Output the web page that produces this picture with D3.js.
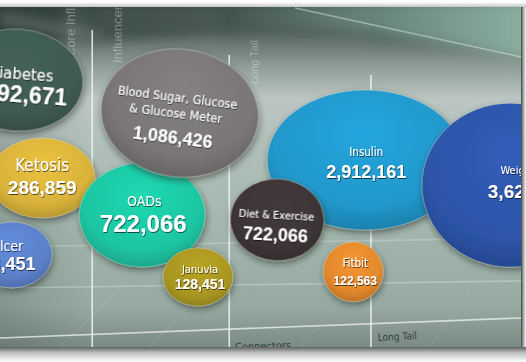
<!DOCTYPE html>
<html>
<head>
<meta charset="utf-8">
<title>Bubble map</title>
<script src="https://d3js.org/d3.v7.min.js"></script>
<style>
body { margin: 0; background: #fff; }
svg { display: block; }
.lbl { font-family: "Liberation Sans Narrow", "DejaVu Sans Condensed", sans-serif; fill: #fff; }
.num { font-family: "Liberation Sans", Arial, sans-serif; font-weight: bold; fill: #fff; }
.col { font-family: "Liberation Sans", Arial, sans-serif; fill: #fff; fill-opacity: .32; }
.foot { font-family: "Liberation Sans Narrow", "DejaVu Sans Condensed", sans-serif; fill: #333b38; }
</style>
</head>
<body>
<svg width="526" height="362"></svg>
<script>
// data (draw order = stacking order)
var categories = ["Insulin", "Weight Loss", "Diabetes", "Ulcer", "Ketosis", "OADs",
                  "Blood Sugar, Glucose\n& Glucose Meter", "Januvia", "Diet & Exercise", "Fitbit"];
var values = [2912161, 3623514, 1592671, 43451, 286859, 722066, 1086426, 128451, 722066, 122563];
// bubble centre, in % of the panel
var xPos = [70.1, 97.9, 3.3, 2.3, 8.1, 27.3, 34.5, 38.0, 53.2, 67.8];
var yPos = [45.0, 52.4, 21.5, 72.9, 50.3, 61.2, 31.2, 79.4, 62.6, 77.9];
// bubble spread, in % of the panel
var spanX = [37.6, 33.8, 25.3, 15.4, 20.3, 24.2, 30.3, 13.4, 18.0, 11.5];
var spanY = [41.2, 48.2, 30.0, 19.4, 23.5, 30.6, 37.6, 17.1, 24.1, 17.6];

var columns = ["Core Influencers", "Influencers", "Connectors", "Long Tail"];
var colBreaks = [17.7, 44.0, 71.2];

// look of each bubble
var styles = [
  {c: "#2198cb", tilt: 0, ls: 11.5, ns: 18, ly: -8,  ny: 12, dx: 1,  ldx: 1},
  {c: "#2d55a9", tilt: 0, ls: 11,   ns: 19, ly: -15, ny: 6,  dx: 20, ldx: 20},
  {c: "#3f5a50", tilt: 4, ls: 16.5, ns: 23, ly: -7,  ny: 14, dx: 0,  ldx: 3},
  {c: "#5a80c8", tilt: 0, ls: 14,   ns: 18, ly: -9,  ny: 9,  dx: -4, ldx: -5},
  {c: "#d8b23a", tilt: 0, ls: 17,   ns: 19, ly: -13, ny: 9,  dx: 0,  ldx: 0},
  {c: "#1dc6a3", tilt: 0, ls: 14,   ns: 24, ly: -14, ny: 8,  dx: 1,  ldx: 2},
  {c: "#7a7677", tilt: 7, ls: 12.5, ns: 18, ly: -16, ny: 25, dx: -4, ldx: -4},
  {c: "#a99621", tilt: 0, ls: 11,   ns: 14, ly: -7,  ny: 7,  dx: 2,  ldx: 2},
  {c: "#3d3536", tilt: 3, ls: 11,   ns: 18, ly: -5,  ny: 15, dx: -1, ldx: -1},
  {c: "#e2882d", tilt: 0, ls: 11.5, ns: 12, ly: -9,  ny: 9,  dx: 2,  ldx: 2}
];

var svg = d3.select("svg"),
    width = +svg.attr("width"),
    height = +svg.attr("height");

var px0 = 0, px1 = 521, py0 = 7, py1 = 347;

var x = d3.scaleLinear().domain([0, 100]).range([px0, px1]);
var y = d3.scaleLinear().domain([0, 100]).range([py0, py1]);
var sx = d3.scaleLinear().domain([0, 100]).range([0, px1 - px0]);
var sy = d3.scaleLinear().domain([0, 100]).range([0, py1 - py0]);
var fmt = d3.format(",");

var defs = svg.append("defs");

function linGrad(id, x1, y1, x2, y2, stops) {
  var g = defs.append("linearGradient").attr("id", id)
      .attr("x1", x1).attr("y1", y1).attr("x2", x2).attr("y2", y2);
  stops.forEach(function(s) {
    g.append("stop").attr("offset", s[0]).attr("stop-color", s[1])
      .attr("stop-opacity", s[2] == null ? 1 : s[2]);
  });
}

linGrad("bg", 0, 0, 0, 1, [[0, "#33423d"], [0.07, "#4a5a54"], [0.17, "#8d9b96"], [0.27, "#bcc6c2"],
  [0.42, "#b0bfb9"], [0.65, "#a3b6ae"], [0.88, "#97aaa2"], [1, "#7a8a84"]]);
linGrad("topband", 0, 0, 1, 0, [[0, "#2f3d38"], [0.45, "#3f5049"], [0.75, "#6d8c80"], [1, "#8fb2a4"]]);
linGrad("leftvig", 0, 0, 1, 0, [[0, "#26332f", 0.18], [1, "#26332f", 0]]);
linGrad("topshade", 0, 0, 0, 1, [[0, "#ffffff"], [1, "#c4c4c4"]]);
linGrad("botshade", 0, 0, 0, 1, [[0, "#5d605f"], [0.35, "#b9bbba"], [1, "#ffffff"]]);
linGrad("rshade", 0, 0, 1, 0, [[0, "#3c3f3e"], [0.4, "#9a9c9b"], [1, "#f4f4f4"]]);

var blur = defs.append("filter").attr("id", "soft").attr("x", "-20%").attr("y", "-50%")
    .attr("width", "140%").attr("height", "200%");
blur.append("feGaussianBlur").attr("stdDeviation", 6);

var shadow = defs.append("filter").attr("id", "bshadow").attr("x", "-30%").attr("y", "-30%")
    .attr("width", "160%").attr("height", "170%");
shadow.append("feDropShadow").attr("dx", 1).attr("dy", 3).attr("stdDeviation", 3)
    .attr("flood-color", "#1d2522").attr("flood-opacity", 0.55);

var tshadow = defs.append("filter").attr("id", "tshadow").attr("x", "-10%").attr("y", "-30%")
    .attr("width", "120%").attr("height", "160%");
tshadow.append("feDropShadow").attr("dx", 0.6).attr("dy", 1).attr("stdDeviation", 0.7)
    .attr("flood-color", "#000").attr("flood-opacity", 0.65);

defs.append("clipPath").attr("id", "panel")
  .append("rect").attr("x", px0).attr("y", py0).attr("width", px1 - px0).attr("height", py1 - py0);

// frame shadows
svg.append("rect").attr("x", 0).attr("y", 2).attr("width", width).attr("height", py0 - 2)
    .attr("fill", "url(#topshade)");
svg.append("rect").attr("x", 0).attr("y", py1).attr("width", width).attr("height", height - py1)
    .attr("fill", "url(#botshade)");
svg.append("rect").attr("x", px1).attr("y", py0).attr("width", width - px1).attr("height", py1 - py0)
    .attr("fill", "url(#rshade)");

var panel = svg.append("g").attr("clip-path", "url(#panel)");

panel.append("rect").attr("x", px0).attr("y", py0).attr("width", px1 - px0).attr("height", py1 - py0)
    .attr("fill", "url(#bg)");

// dark sweep across the top
panel.append("path")
    .attr("d", "M-20,0 L540,0 L540,62 C430,40 330,24 250,30 C180,34 90,48 -20,36 Z")
    .attr("fill", "url(#topband)").attr("filter", "url(#soft)");
panel.append("path")
    .attr("d", "M0,12 C40,18 70,26 100,32 L100,40 C70,36 40,30 0,26 Z")
    .attr("fill", "#8e9a96").attr("opacity", 0.45).attr("filter", "url(#soft)");
panel.append("line").attr("x1", 295).attr("y1", 8).attr("x2", 526).attr("y2", 58)
    .attr("stroke", "#e6f2ec").attr("stroke-opacity", 0.45).attr("stroke-width", 1.5);
panel.append("rect").attr("x", px0).attr("y", py0).attr("width", 90).attr("height", py1 - py0)
    .attr("fill", "url(#leftvig)");

// column bands at the top
var colEdges = [12, 17.7, 44.0, 71.2];
panel.selectAll("rect.band").data([0, 1, 2]).enter().append("rect")
    .attr("class", "band")
    .attr("x", function(i) { return x(colEdges[i]); })
    .attr("y", py0)
    .attr("width", function(i) { return x(colEdges[i + 1]) - x(colEdges[i]) - 4; })
    .attr("height", 45)
    .attr("fill", "#ffffff")
    .attr("opacity", function(i) { return [0.08, 0.05, 0.03][i]; })
    .attr("filter", "url(#soft)");

// faint perspective grid
var hLines = [[0, 247, 521, 238, 0.25], [0, 288, 521, 281, 0.3], [0, 338, 521, 318, 0.75]];
panel.selectAll("line.h").data(hLines).enter().append("line")
    .attr("class", "h")
    .attr("x1", function(d) { return d[0]; }).attr("y1", function(d) { return d[1]; })
    .attr("x2", function(d) { return d[2]; }).attr("y2", function(d) { return d[3]; })
    .attr("stroke", "#eef4f1").attr("stroke-opacity", function(d) { return d[4]; })
    .attr("stroke-width", 1.6);

var diag = [[60, 347, 160, 250], [150, 347, 230, 262], [300, 347, 340, 300], [430, 347, 470, 290]];
panel.selectAll("line.d").data(diag).enter().append("line")
    .attr("class", "d")
    .attr("x1", function(d) { return d[0]; }).attr("y1", function(d) { return d[1]; })
    .attr("x2", function(d) { return d[2]; }).attr("y2", function(d) { return d[3]; })
    .attr("stroke", "#ffffff").attr("stroke-opacity", 0.12);

var vTop = [30, 55, 75];
panel.selectAll("line.v").data(colBreaks).enter().append("line")
    .attr("class", "v")
    .attr("x1", function(d) { return x(d); }).attr("x2", function(d) { return x(d); })
    .attr("y1", function(d, i) { return vTop[i]; }).attr("y2", py1)
    .attr("stroke", "#f2f6f4").attr("stroke-opacity", 0.85).attr("stroke-width", 1.6);

// rotated column titles
var colPos = [[75, 57, 13, "start"], [122, 63, 13, "start"], [176, 48, 13, "end"], [258, 84, 11, "start"]];
panel.selectAll("text.col").data(columns).enter().append("text")
    .attr("class", "col")
    .attr("text-anchor", function(d, i) { return colPos[i][3]; })
    .attr("font-size", function(d, i) { return colPos[i][2]; })
    .attr("transform", function(d, i) { return "translate(" + colPos[i][0] + "," + colPos[i][1] + ") rotate(-90)"; })
    .text(function(d) { return d; });

// bottom axis titles
panel.append("text").attr("class", "foot").attr("font-size", 11)
    .attr("transform", "translate(235,351) rotate(-2)").text(columns[2]);
panel.append("text").attr("class", "foot").attr("font-size", 10)
    .attr("transform", "translate(378,341) rotate(-3)").text(columns[3]);

// bubble gradients
styles.forEach(function(s, i) {
  var c = d3.color(s.c);
  var g = defs.append("radialGradient").attr("id", "bub" + i)
      .attr("cx", "50%").attr("cy", "38%").attr("r", "62%").attr("fx", "50%").attr("fy", "30%");
  g.append("stop").attr("offset", 0).attr("stop-color", c.brighter(0.25));
  g.append("stop").attr("offset", 0.75).attr("stop-color", c);
  g.append("stop").attr("offset", 1).attr("stop-color", c.darker(0.45));
});

var data = categories.map(function(name, i) {
  return {name: name, value: values[i], x: xPos[i], y: yPos[i], w: spanX[i], h: spanY[i], s: styles[i], i: i};
});

var bub = panel.selectAll("g.bubble").data(data).enter().append("g")
    .attr("class", "bubble")
    .attr("transform", function(d) {
      return "translate(" + x(d.x) + "," + y(d.y) + ") rotate(" + d.s.tilt + ")";
    });

bub.append("ellipse")
    .attr("rx", function(d) { return sx(d.w) / 2; })
    .attr("ry", function(d) { return sy(d.h) / 2; })
    .attr("fill", function(d) { return "url(#bub" + d.i + ")"; })
    .attr("stroke", "#e9e4d6").attr("stroke-opacity", 0.35).attr("stroke-width", 1)
    .attr("filter", "url(#bshadow)");

var txt = bub.append("g").attr("filter", "url(#tshadow)");

txt.each(function(d) {
  var g = d3.select(this);
  var lines = d.name.split("\n");
  var lh = d.s.ls * 1.35;
  lines.forEach(function(l, k) {
    g.append("text").attr("class", "lbl")
      .attr("x", d.s.ldx).attr("y", d.s.ly + k * lh)
      .attr("text-anchor", "middle").attr("dominant-baseline", "central")
      .attr("font-size", d.s.ls)
      .text(l);
  });
  g.append("text").attr("class", "num")
    .attr("x", d.s.dx).attr("y", d.s.ny)
    .attr("text-anchor", "middle").attr("dominant-baseline", "central")
    .attr("font-size", d.s.ns)
    .text(fmt(d.value));
});
</script>
</body>
</html>
